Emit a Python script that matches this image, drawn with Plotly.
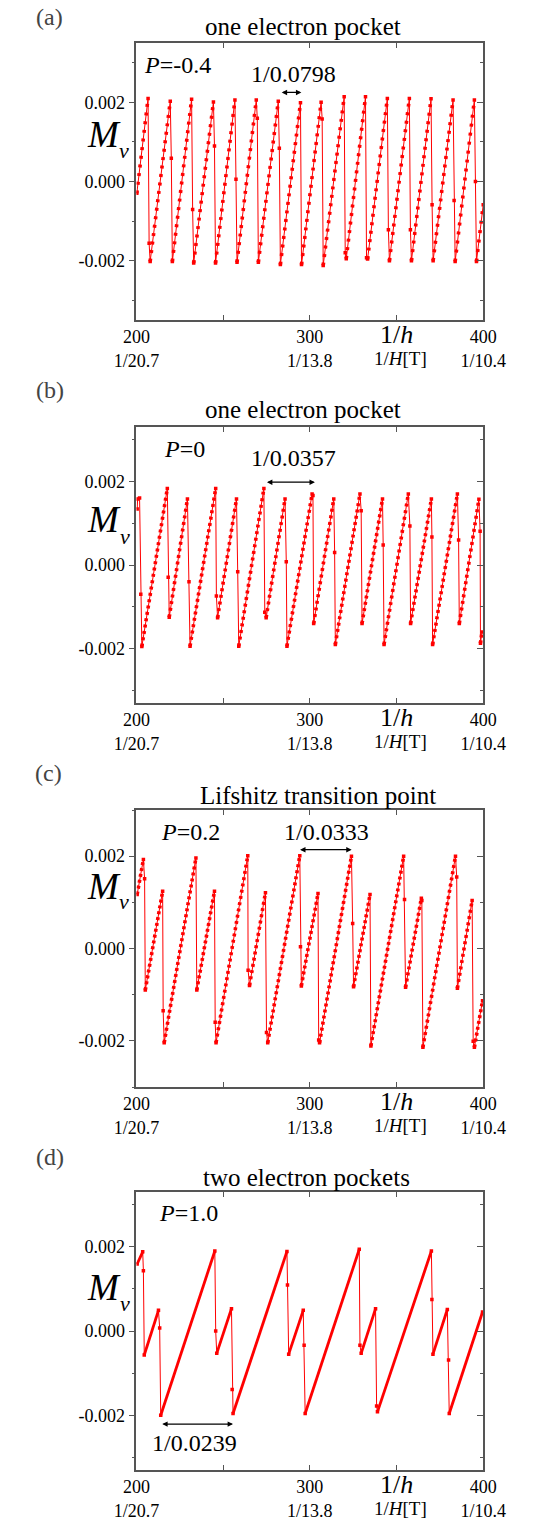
import math
import plotly.graph_objects as go

# ---------------- data ----------------
# panel (a)  P=-0.4
a_x = [200.2, 206.7, 207.3, 207.9, 219.5, 220.1, 220.7, 231.8, 232.4, 233.0,
       244.4, 245.0, 245.6, 256.8, 257.4, 258.0, 269.1, 269.7, 270.3,
       281.8, 282.4, 283.0, 294.6, 295.2, 306.5, 307.1, 307.7,
       319.8, 320.4, 321.0, 332.1, 332.7, 333.3, 344.7, 345.3, 345.9,
       357.4, 358.0, 358.6, 369.9, 370.5, 371.1, 382.6, 383.2, 383.8,
       394.9, 395.5, 396.1, 400.0]
a_y = [-0.0003, 0.0021, -0.00156, -0.00202, 0.00203, 0.00059, -0.00202, 0.00208, -0.00071, -0.00206,
       0.00201, 0.0009, -0.00206, 0.00206, 0.00006, -0.00204, 0.00206, 0.0016, -0.00204,
       0.00203, 0.00084, -0.0021, 0.00199, -0.0021, 0.0020, 0.00158, -0.00212,
       0.00214, -0.0018, -0.00195, 0.00214, -0.00193, -0.00196, 0.0021, -0.00122, -0.0020,
       0.0021, -0.00122, -0.0020, 0.00209, -0.00059, -0.0020, 0.00206, -0.00048, -0.00202,
       0.00206, 0.0000, -0.00202, -0.00059]

# panel (b)  P=0
b_x = [200.4, 200.7, 201.8, 202.5, 203.1, 217.8, 218.3, 218.9, 229.4, 230.3, 230.9,
       245.7, 246.1, 246.8, 257.7, 258.4, 259.0, 273.5, 274.0, 274.8,
       285.7, 286.4, 286.8, 301.3, 301.8, 302.2, 313.8, 314.3, 314.7,
       328.9, 329.6, 330.1, 341.9, 342.3, 342.8, 356.8, 357.7, 358.1,
       370.1, 370.4, 370.8, 385.1, 385.8, 386.2, 397.5, 398.2, 398.4, 399.3]
b_y = [0.00134, 0.00158, 0.0016, -0.0007, -0.00195, 0.00183, -0.00029, -0.00125, 0.00158, -0.0004, -0.00194,
       0.00183, -0.00074, -0.00126, 0.00158, -0.00016, -0.00194, 0.00183, -0.00113, -0.00126,
       0.00158, 0.00008, -0.00194, 0.0017, 0.00166, -0.0014, 0.00158, 0.0003, -0.0019,
       0.0017, 0.0013, -0.0014, 0.00158, 0.00048, -0.0019, 0.0017, 0.00093, -0.0014,
       0.00158, 0.00067, -0.0019, 0.0017, 0.0006, -0.0014, 0.00157, 0.00081, -0.00187, -0.0016]

# panel (c)  P=0.2
c_x = [200.4, 204.0, 204.7, 205.1, 215.1, 215.4, 216.0, 234.3, 234.8,
       245.0, 245.4, 245.9, 264.2, 264.4, 265.2, 274.4, 275.0, 275.7,
       294.2, 294.6, 295.1, 304.7, 305.1, 305.6, 324.0, 324.7, 325.2,
       334.7, 335.2, 354.1, 354.6, 355.2, 364.3, 364.6, 365.2,
       384.0, 384.7, 385.1, 393.6, 394.2, 394.9, 399.6]
c_y = [0.00117, 0.00193, 0.00151, -0.0009, 0.00124, -0.00135, -0.00204, 0.00196, -0.0009,
       0.00124, -0.0016, -0.00204, 0.00201, -0.00047, -0.0008, 0.00121, -0.00182, -0.00204,
       0.00201, 0.00004, -0.00081, 0.00119, -0.00198, -0.00204, 0.0020, 0.00054, -0.00083,
       0.00117, -0.00211, 0.0020, 0.00106, -0.00084, 0.00109, 0.00104, -0.00214,
       0.0020, 0.00155, -0.00086, 0.00104, -0.00201, -0.00214, -0.00113]

# panel (d)  P=1.0
d_x = [200.4, 203.6, 204.0, 204.5, 212.7, 213.4, 214.0, 245.2, 245.7, 246.3,
       254.8, 255.2, 255.7, 286.8, 287.1, 287.8, 296.2, 296.7, 297.3,
       328.5, 328.9, 329.6, 337.9, 338.5, 339.0, 370.1, 370.4, 371.0,
       379.3, 380.0, 380.4, 399.6]
d_y = [0.00159, 0.00188, 0.00143, -0.00057, 0.00049, 0.00007, -0.002, 0.0019, 0.0, -0.00053,
       0.00053, -0.00139, -0.00196, 0.00189, 0.00109, -0.00055, 0.00049, -0.00034, -0.00196,
       0.00194, -0.00034, -0.00053, 0.00053, -0.00178, -0.00192, 0.0019, 0.00075, -0.00055,
       0.00051, -0.00069, -0.00196, 0.00045]

titles = ["one electron pocket", "one electron pocket", "Lifshitz transition point", "two electron pockets"]
tags = ["(a)", "(b)", "(c)", "(d)"]
p_labels = ["<i>P</i>=-0.4", "<i>P</i>=0", "<i>P</i>=0.2", "<i>P</i>=1.0"]
period_labels = ["1/0.0798", "1/0.0357", "1/0.0333", "1/0.0239"]
x_tickvals = [200, 250, 300, 350, 400]
x_ticktext = ["200<br>1/20.7", "", "300<br>1/13.8", "", "400<br>1/10.4"]
y_tickvals = [-0.002, 0.0, 0.002]
y_ticktext = ["-0.002", "0.000", "0.002"]
y_minor = [-0.003, -0.001, 0.001, 0.003]

series = [(a_x, a_y), (b_x, b_y), (c_x, c_y), (d_x, d_y)]

# ---------------- layout geometry (pixels) ----------------
W, H = 541, 1522
XL, XR = 124, 503
SERIF = "Liberation Serif"
RED = "#ff0000"
FRAME = "#555555"

geo = [
    dict(top=43, bot=320, yr=0.0035, title_px=(306, 27), tag_px=(29, 17), M_px=(88, 135),
         p_xy=(203.0, 0.00294), lab_xy=(290.7, 0.00271), arr=(282.9, 295.1, 0.00225)),
    dict(top=427, bot=703, yr=0.0033, title_px=(306, 410), tag_px=(29, 390), M_px=(89, 520),
         p_xy=(215.0, 0.00277), lab_xy=(290.7, 0.00256), arr=(274.4, 302.9, 0.00198)),
    dict(top=810, bot=1087, yr=0.0030, title_px=(322, 795), tag_px=(28, 773), M_px=(88, 886),
         p_xy=(213.0, 0.00252), lab_xy=(309.8, 0.00253), arr=(293.5, 324.1, 0.00214)),
    dict(top=1192, bot=1470, yr=0.0033, title_px=(310, 1177), tag_px=(29, 1157), M_px=(89, 1287),
         p_xy=(212.0, 0.00281), lab_xy=(233.6, -0.00267), arr=(214.0, 255.7, -0.00221)),
]

SAMPLE_STEP = 0.6  # visual bead spacing along 1/h

fig = go.Figure()
layout = dict(width=W, height=H, margin=dict(l=0, r=0, t=0, b=0),
              paper_bgcolor="white", plot_bgcolor="white", showlegend=False,
              font=dict(family=SERIF, color="black", size=18))
annotations = []

for i, ((xs, ys), g) in enumerate(zip(series, geo)):
    n = i + 1
    xa = "x" if n == 1 else f"x{n}"
    ya = "y" if n == 1 else f"y{n}"
    yo = f"y{n + 4}"
    sx = (XR - XL) / 200.0
    sy = (g["bot"] - g["top"]) / (2 * g["yr"])

    # thin connecting line with markers at vertices
    fig.add_trace(go.Scatter(x=xs, y=ys, xaxis=xa, yaxis=ya, mode="lines+markers",
                             line=dict(color=RED, width=1),
                             marker=dict(color=RED, size=3.5, symbol="square"),
                             hoverinfo="skip"))
    # beaded overlay on rising segments
    for k in range(len(xs) - 1):
        x0, x1, y0, y1 = xs[k], xs[k + 1], ys[k], ys[k + 1]
        if y1 > y0 and (x1 - x0) > 0.8:
            L = math.hypot((x1 - x0) * sx, (y1 - y0) * sy)
            cnt = max(1, round((x1 - x0) / SAMPLE_STEP))
            per = L / cnt
            if per > 4.8:
                on = 3.0
                dash = f"{on}px,{per - on:.2f}px"
                w = 3.6
            else:
                dash = "solid"
                w = 2.8
            fig.add_trace(go.Scatter(x=[x0, x1], y=[y0, y1], xaxis=xa, yaxis=ya, mode="lines",
                                     line=dict(color=RED, width=w, dash=dash),
                                     hoverinfo="skip"))

    ydom = [1 - g["bot"] / H, 1 - g["top"] / H]
    layout["xaxis" if n == 1 else f"xaxis{n}"] = dict(
        domain=[XL / W, XR / W], anchor=ya, range=[200, 400],
        tickmode="array", tickvals=x_tickvals, ticktext=x_ticktext,
        ticks="inside", ticklen=5, tickwidth=1, tickcolor=FRAME,
        showline=True, linecolor=FRAME, linewidth=1.5, mirror="ticks",
        showgrid=False, zeroline=False,
        tickfont=dict(family=SERIF, size=18, color="black"))
    layout["yaxis" if n == 1 else f"yaxis{n}"] = dict(
        domain=ydom, anchor=xa, range=[-g["yr"], g["yr"]],
        tickmode="array", tickvals=y_tickvals, ticktext=y_ticktext,
        ticks="outside", ticklen=6, tickwidth=1, tickcolor=FRAME,
        minor=dict(tickmode="array", tickvals=y_minor, ticks="outside", ticklen=3, tickcolor=FRAME),
        showline=True, linecolor=FRAME, linewidth=1.5, mirror=True,
        showgrid=False, zeroline=False,
        tickfont=dict(family=SERIF, size=18, color="black"))
    layout[f"yaxis{n + 4}"] = dict(
        overlaying=ya, anchor=xa, side="right", range=[-g["yr"], g["yr"]],
        tickmode="array", tickvals=y_tickvals, showticklabels=False,
        ticks="inside", ticklen=6, tickwidth=1, tickcolor=FRAME,
        minor=dict(tickmode="array", tickvals=y_minor, ticks="inside", ticklen=3, tickcolor=FRAME),
        showline=False, showgrid=False, zeroline=False)
    # invisible anchor trace so the overlay axis is drawn
    fig.add_trace(go.Scatter(x=[200], y=[0], xaxis=xa, yaxis=yo, mode="markers",
                             marker=dict(opacity=0), hoverinfo="skip"))

    # text annotations
    annotations.append(dict(text=titles[i], xref="paper", yref="paper",
                            x=g["title_px"][0] / W, y=1 - g["title_px"][1] / H,
                            xanchor="center", yanchor="middle", showarrow=False,
                            font=dict(family=SERIF, size=25, color="black")))
    annotations.append(dict(text=tags[i], xref="paper", yref="paper",
                            x=g["tag_px"][0] / W, y=1 - g["tag_px"][1] / H,
                            xanchor="center", yanchor="middle", showarrow=False,
                            font=dict(family=SERIF, size=24, color="#444444")))
    annotations.append(dict(text="<i>M</i>", xref="paper", yref="paper",
                            x=g["M_px"][0] / W, y=1 - g["M_px"][1] / H,
                            xanchor="center", yanchor="middle", showarrow=False,
                            font=dict(family=SERIF, size=37, color="black")))
    annotations.append(dict(text="<i>ν</i>", xref="paper", yref="paper",
                            x=(g["M_px"][0] + 22) / W, y=1 - (g["M_px"][1] + 16) / H,
                            xanchor="center", yanchor="middle", showarrow=False,
                            font=dict(family=SERIF, size=22, color="black")))
    annotations.append(dict(text=p_labels[i], xref=xa, yref=ya,
                            x=g["p_xy"][0], y=g["p_xy"][1],
                            xanchor="left", yanchor="middle", showarrow=False,
                            font=dict(family=SERIF, size=24, color="black")))
    annotations.append(dict(text=period_labels[i], xref=xa, yref=ya,
                            x=g["lab_xy"][0], y=g["lab_xy"][1],
                            xanchor="center", yanchor="middle", showarrow=False,
                            font=dict(family=SERIF, size=24, color="black")))
    ax0, ax1, ay = g["arr"]
    annotations.append(dict(text="", xref=xa, yref=ya, axref=xa, ayref=ya,
                            x=ax1, y=ay, ax=ax0, ay=ay, showarrow=True,
                            arrowside="end+start", arrowhead=2, arrowsize=0.9,
                            arrowwidth=1.2, arrowcolor="black"))
    # x-axis name below the axis
    annotations.append(dict(text="1/<i>h</i>", xref=xa, yref="paper",
                            x=350, y=1 - (g["bot"] + 14) / H,
                            xanchor="center", yanchor="middle", showarrow=False,
                            font=dict(family=SERIF, size=26, color="black")))
    annotations.append(dict(text="1/<i>H</i>[T]", xref=xa, yref="paper",
                            x=352.5, y=1 - (g["bot"] + 38) / H,
                            xanchor="center", yanchor="middle", showarrow=False,
                            font=dict(family=SERIF, size=19, color="black")))

layout["annotations"] = annotations
fig.update_layout(**layout)
fig.write_html("out.html")
